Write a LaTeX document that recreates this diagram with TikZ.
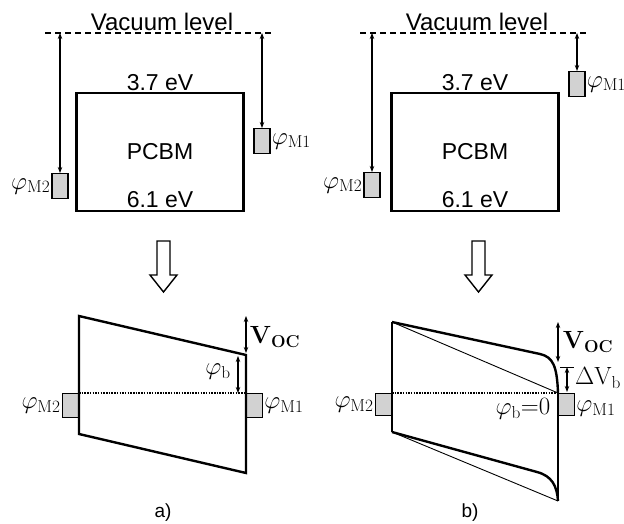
\documentclass[tikz,border=0pt]{standalone}
\usepackage[no-math]{fontspec}
\setmainfont{Liberation Sans}
\usetikzlibrary{arrows.meta,positioning,calc}
\tikzset{
  metal/.style={draw, line width=1.2pt, fill=gray!35, minimum width=16pt, minimum height=24pt, inner sep=0pt},
  dimarrow/.style={{Stealth[length=6pt,width=4.5pt]}-{Stealth[length=6pt,width=4.5pt]}, line width=1.5pt},
  band/.style={line width=2.4pt},
  pcbm/.style={draw, line width=2.2pt, minimum width=167pt, minimum height=118pt, inner sep=0pt},
  sanslbl/.style={font=\fontsize{23}{27}\selectfont, inner sep=0pt},
  mathlbl/.style={font=\fontsize{24}{28}\selectfont, inner sep=1pt},
  vacuum/.style={line width=1.7pt, dash pattern=on 6pt off 4pt},
  fermi/.style={line width=1.5pt, dash pattern=on 1.5pt off 1.2pt}
}
\begin{document}
\begin{tikzpicture}[x=1pt, y=-1pt]
    \useasboundingbox (0,0) rectangle (624,524);
    % energy levels before contact
    \foreach \dx/\pa/\pb/\ya/\yb/\tag in {0/60/262/185/141/A, 315/372/577/184/84/B}{
        \coordinate (vacL\tag) at (45+\dx,33);
        \coordinate (vacR\tag) at (272+\dx,33);
        \draw[vacuum] (vacL\tag) -- (vacR\tag);
        \node[sanslbl, font=\fontsize{24}{28}\selectfont, anchor=south] (vac\tag) at (162+\dx,31) {Vacuum level};
        \node[pcbm] (pcbm\tag) at (160+\dx,152) {};
        \node[sanslbl] at (pcbm\tag) {PCBM};
        \node[sanslbl, above=1pt of pcbm\tag.north] (lumo\tag) {3.7 eV};
        \node[sanslbl, above=4pt of pcbm\tag.south] (homo\tag) {6.1 eV};
        \node[metal, minimum height=25pt, anchor=north] (mtwo\tag) at (\pa,\ya-12) {};
        \node[metal, minimum height=25pt, anchor=north] (mone\tag) at (\pb,\yb-13) {};
        \draw[dimarrow] (mtwo\tag.north |- vacL\tag) -- (mtwo\tag.north);
        \draw[dimarrow] (mone\tag.north |- vacL\tag) -- (mone\tag.north);
        \node[mathlbl, left=0pt of mtwo\tag] {$\varphi_{\mathrm{M2}}$};
        \node[mathlbl, right=0pt of mone\tag] {$\varphi_{\mathrm{M1}}$};
        \draw[line width=1.4pt, fill=white] (157+\dx,241) -- (170+\dx,241) -- (170+\dx,275) -- (177+\dx,275)
            -- (163.5+\dx,292) -- (150+\dx,275) -- (157+\dx,275) -- cycle;
    }
    % a) after contact
    \coordinate (aTL) at (79,316);
    \coordinate (aBL) at (79,434);
    \coordinate (aTR) at (246,355);
    \coordinate (aBR) at (246,473);
    \node[metal, anchor=north east] (mtwoa) at (79,393) {};
    \node[metal, anchor=north west] (monea) at (246,393) {};
    \draw[band] (aTR) -- (aTL) -- (aBL) -- (aBR) -- cycle;
    \draw[fermi] (mtwoa.north east) -- (monea.north west);
    \draw[dimarrow] (aTR |- aTL) -- ($(aTR)+(0,-2)$);
    \draw[dimarrow] (238,356) -- (238,393);
    \node[mathlbl, left=0pt of mtwoa] {$\varphi_{\mathrm{M2}}$};
    \node[mathlbl, right=0pt of monea] {$\varphi_{\mathrm{M1}}$};
    \node[mathlbl] (phiba) at (218,372) {$\varphi_{\mathrm{b}}$};
    \node[mathlbl, font=\fontsize{26}{30}\selectfont] (voca) at (275,337) {$\mathbf{V}_{\mathbf{OC}}$};
    \node[sanslbl, font=\fontsize{19}{22}\selectfont] (capa) at (163,513) {a)};
    % b) after contact
    \coordinate (bTL) at (392,322);
    \coordinate (bBL) at (392,432);
    \coordinate (bTR) at (558,393);
    \coordinate (bBR) at (558,501);
    \node[metal, minimum height=22pt, anchor=north east] (mtwob) at (bTL |- bTR) {};
    \node[metal, minimum height=22pt, anchor=north west] (moneb) at (bTR) {};
    \draw[line width=0.9pt] (bTL) -- (bTR);
    \draw[line width=0.9pt] (bBL) -- (bBR);
    \draw[band] (bTL) -- (bBL);
    \draw[band] (bTR) -- (bBR);
    \draw[band] (bTL) -- (540,354) .. controls (553,357) and (557,366) .. (bTR);
    \draw[band] (bBL) -- (537,472) .. controls (552,476) and (557,486) .. (bBR);
    \draw[fermi] (mtwob.north east) -- (moneb.north west);
    \draw[dimarrow] (bTR |- bTL) -- (558,362);
    \draw[line width=1pt] (560,367) -- (574,367);
    \draw[dimarrow] (567,367) -- (567,392);
    \node[mathlbl, left=0pt of mtwob] {$\varphi_{\mathrm{M2}}$};
    \node[mathlbl, right=0pt of moneb, yshift=-4pt] {$\varphi_{\mathrm{M1}}$};
    \node[mathlbl, font=\fontsize{26}{30}\selectfont] (vocb) at (588,342) {$\mathbf{V}_{\mathbf{OC}}$};
    \node[mathlbl] (dvb) at (598,378) {$\Delta\mathrm{V}_{\mathrm{b}}$};
    \node[mathlbl] (phibb) at (523,409) {$\varphi_{\mathrm{b}}{=}0$};
    \node[sanslbl, font=\fontsize{19}{22}\selectfont] (capb) at (470,513) {b)};
\end{tikzpicture}
\end{document}
